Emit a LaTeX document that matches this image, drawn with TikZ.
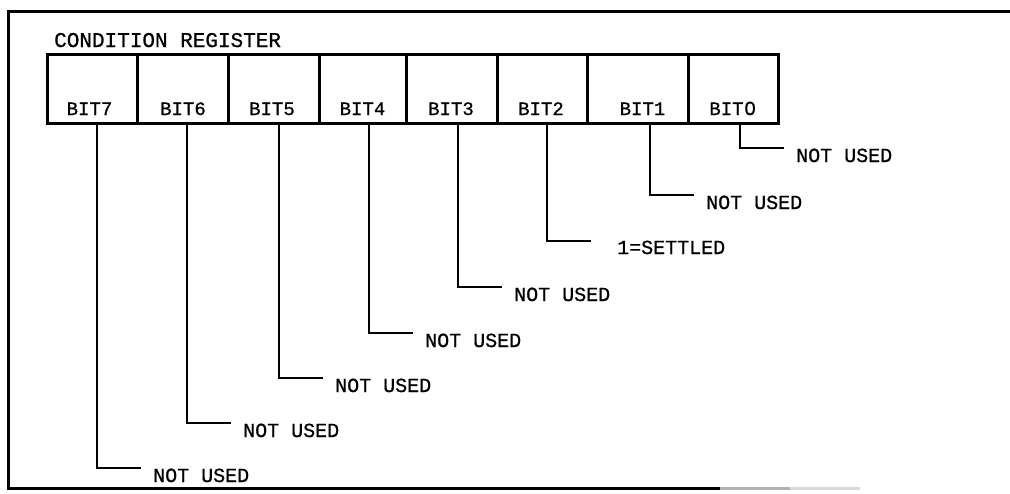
\documentclass[tikz,border=0pt]{standalone}
\usepackage{fontspec}
\newfontfamily\plotfont[FakeBold=0.8]{Liberation Mono}
\newfontfamily\zerofont[FakeBold=0.8,FakeStretch=1.05]{Liberation Sans}
\usetikzlibrary{calc}
\begin{document}
\begin{tikzpicture}[x=1pt,y=-1pt,
  cell/.style={draw,line width=3pt,minimum width=#1,minimum height=69pt,inner sep=0pt,outer sep=0pt,anchor=north west},
  bitlbl/.style={font=\plotfont\fontsize{19}{19}\selectfont,anchor=base,inner sep=0pt},
  note/.style={font=\plotfont\fontsize{20}{20}\selectfont,anchor=base west,inner sep=0pt},
  title/.style={font=\plotfont\fontsize{21}{21}\selectfont,anchor=base west,inner sep=0pt},
  wire/.style={line width=1.7pt},
  frameline/.style={line width=3pt}]
\useasboundingbox (0,0) rectangle (1010,493);
% frame
\draw[frameline] (1010,11) -- (8,11) -- (8,488) -- (720,488);
\draw[frameline,gray!60] (720,488) -- (790,488);
\draw[frameline,gray!30] (790,488) -- (860,488);
% title
\node[title] (ttl) at (54,47) {CONDITION REGISTER};
% cells
\node[cell=90pt] (c7) at (47,54) {};
\node[cell=91pt] (c6) at (137,54) {};
\node[cell=91pt] (c5) at (228,54) {};
\node[cell=87pt] (c4) at (319,54) {};
\node[cell=91pt] (c3) at (406,54) {};
\node[cell=90pt] (c2) at (497,54) {};
\node[cell=101pt] (c1) at (587,54) {};
\node[cell=90pt] (c0) at (688,54) {};
% bit labels
\node[bitlbl] (b7) at (89.5,115) {BIT7};
\node[bitlbl] (b6) at (183,115) {BIT6};
\node[bitlbl] (b5) at (272,115) {BIT5};
\node[bitlbl] (b4) at (362.5,115) {BIT4};
\node[bitlbl] (b3) at (451,115) {BIT3};
\node[bitlbl] (b2) at (541,115) {BIT2};
\node[bitlbl] (b1) at (642.5,115) {BIT1};
\node[bitlbl] (b0) at (732.5,115) {BIT\kern1pt{\zerofont 0}};
% connector ends
\coordinate (e7) at (141,468);
\coordinate (e6) at (231,423);
\coordinate (e5) at (323,378);
\coordinate (e4) at (413,333);
\coordinate (e3) at (502,287);
\coordinate (e2) at (591,241);
\coordinate (e1) at (694,195);
\coordinate (e0) at (784,148);
% connectors
\foreach \i in {0,...,7}{
  \draw[wire] ([xshift=-44pt]e\i |- c\i.south) |- (e\i);
}
% notes
\node[note] (n7) at ([shift={(12,14)}]e7) {NOT USED};
\node[note] (n6) at ([shift={(12,14)}]e6) {NOT USED};
\node[note] (n5) at ([shift={(12,14)}]e5) {NOT USED};
\node[note] (n4) at ([shift={(12,14)}]e4) {NOT USED};
\node[note] (n3) at ([shift={(12,14)}]e3) {NOT USED};
\node[note] (n2) at ([shift={(26,13)}]e2) {1=SETTLED};
\node[note] (n1) at ([shift={(12,14)}]e1) {NOT USED};
\node[note] (n0) at ([shift={(12,14)}]e0) {NOT USED};
\end{tikzpicture}
\end{document}
